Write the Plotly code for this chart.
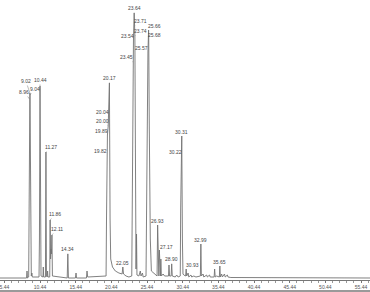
import plotly.graph_objects as go

# Chromatogram trace: retention time (min) and abundance (arbitrary units)
rt_points = [
    4.80, 8.55, 8.62, 8.68, 8.85, 8.90, 8.96, 9.02, 9.04, 9.10, 9.16, 9.22, 9.30, 9.36,
    10.30, 10.36, 10.44, 10.52, 10.58, 10.85, 10.90, 10.95,
    11.20, 11.27, 11.34, 11.45, 11.50, 11.55, 11.80, 11.86, 11.92, 11.98, 12.04, 12.11, 12.18,
    14.25, 14.34, 14.42, 15.40, 15.49, 15.56, 16.95, 17.03, 17.12,
    19.70, 19.76, 19.82, 19.89, 20.00, 20.04, 20.17, 20.26, 20.35, 20.60, 21.00, 21.50,
    21.95, 22.05, 22.15, 22.50, 22.90,
    23.30, 23.38, 23.45, 23.54, 23.64, 23.71, 23.74, 23.82, 23.90, 23.97, 24.03,
    24.30, 24.50, 24.60, 24.80, 24.90,
    25.30, 25.42, 25.57, 25.66, 25.68, 25.76, 25.90, 26.05,
    26.85, 26.93, 27.00, 27.10, 27.17, 27.24, 27.32, 27.38, 27.45, 27.70, 27.90,
    28.45, 28.52, 28.60, 28.82, 28.90, 28.98, 29.40, 29.60, 29.80,
    30.10, 30.16, 30.22, 30.31, 30.40, 30.48, 30.60,
    30.85, 30.93, 31.00, 31.20, 31.30, 31.60, 31.70, 32.00, 32.30,
    32.92, 32.99, 33.06, 33.30, 33.40, 33.80, 33.90, 34.20, 34.30,
    34.85, 34.92, 35.00, 35.20, 35.58, 35.65, 35.72, 35.90, 36.00, 36.30, 36.40,
    36.70, 36.80, 37.20, 56.70,
]
abundance = [
    1, 1, 8, 1, 2, 60, 180, 186, 184, 120, 20, 3, 6, 2,
    2, 40, 193, 60, 3, 2, 12, 2,
    2, 127, 3, 2, 8, 2, 2, 59, 20, 30, 25, 44, 3,
    1, 25, 1, 1, 6, 1, 1, 8, 2,
    3, 60, 124, 144, 153, 162, 196, 60, 20, 12, 8, 6,
    5, 12, 5, 3, 2,
    3, 100, 217, 239, 266, 253, 243, 120, 10, 45, 4,
    3, 8, 3, 6, 2,
    3, 120, 227, 249, 240, 150, 40, 8,
    3, 54, 4, 3, 29, 4, 3, 20, 3, 5, 3,
    3, 14, 3, 3, 15, 3, 2, 4, 2,
    3, 70, 124, 143, 40, 5, 4,
    3, 10, 3, 6, 2, 4, 2, 3, 2,
    3, 35, 3, 5, 2, 4, 2, 4, 2,
    2, 10, 2, 3, 2, 13, 2, 5, 2, 5, 2,
    4, 2, 1.5, 1,
]

# Labelled peaks (retention times printed on the chart)
peak_labels = [
    "8.96", "9.02", "9.04", "10.44", "11.27", "11.86", "12.11", "14.34",
    "19.82", "19.89", "20.00", "20.04", "20.17", "22.05",
    "23.45", "23.54", "23.64", "23.71", "23.74",
    "25.57", "25.66", "25.68", "26.93", "27.17", "28.90",
    "30.22", "30.31", "30.93", "32.99", "35.65",
]

# x-axis tick labels
tick_labels = ["5.44", "10.44", "15.44", "20.44", "25.44", "30.44",
               "35.44", "40.44", "45.44", "50.44", "55.44"]

# label offsets (pixels, text centre relative to the peak apex) - layout only
label_offsets = {
    "8.96": (-5, -7), "9.02": (-4, -12), "9.04": (5, -6), "10.44": (0, -6),
    "11.27": (5, -5), "11.86": (5, -6), "12.11": (5, -6), "14.34": (0, -5),
    "19.82": (-6, -4), "19.89": (-6, -4), "20.00": (-6, -5), "20.04": (-6, -5),
    "20.17": (0, -5), "22.05": (0, -4),
    "23.45": (-6, -5), "23.54": (-6, -4), "23.64": (0, -5), "23.71": (6, -5),
    "23.74": (6, -5), "25.57": (-6, -4), "25.66": (6, -4), "25.68": (6, -4),
    "26.93": (0, -4), "27.17": (7, -3), "28.90": (0, -5),
    "30.22": (-6, -3), "30.31": (0, -4), "30.93": (6, -4), "32.99": (0, -4),
    "35.65": (0, -4),
}

fig = go.Figure()
fig.add_trace(go.Scatter(
    x=rt_points, y=abundance, mode="lines",
    line=dict(color="#737373", width=0.9),
    hoverinfo="x+y", showlegend=False,
))

lookup = dict(zip(rt_points, abundance))
for lab in peak_labels:
    t = float(lab)
    ax, ay = label_offsets[lab]
    fig.add_annotation(
        x=t, y=lookup[t], text=lab, showarrow=True,
        ax=ax, ay=ay, axref="pixel", ayref="pixel",
        arrowhead=0, arrowwidth=0.5, arrowcolor="#777", standoff=0,
        font=dict(size=5, color="#444", family="Liberation Sans, Arial, sans-serif"),
    )

fig.add_shape(type="rect", xref="paper", yref="paper",
              x0=0, x1=1, y0=-0.0429, y1=-0.0357,
              fillcolor="#9a9a9a", line=dict(width=0))

fig.update_layout(
    width=370, height=292,
    margin=dict(l=0, r=0, t=0, b=12),
    paper_bgcolor="white", plot_bgcolor="white",
    font=dict(family="Liberation Sans, Arial, sans-serif"),
    xaxis=dict(
        range=[4.83, 56.70],
        tickmode="array",
        tickvals=[float(s) for s in tick_labels],
        ticktext=tick_labels,
        tickfont=dict(size=5, color="#555"),
        ticklabeloverflow="allow",
        ticks="outside", ticklen=2, tickwidth=0.5, tickcolor="#777",
        minor=dict(tickmode="linear", tick0=5.44, dtick=1, ticks="outside",
                   ticklen=1.5, tickwidth=0.5, tickcolor="#999"),
        showline=True, linecolor="#777", linewidth=1,
        showgrid=False, zeroline=False,
    ),
    yaxis=dict(range=[-1, 279], visible=False, showgrid=False, zeroline=False),
)

fig.write_html("out.html")
